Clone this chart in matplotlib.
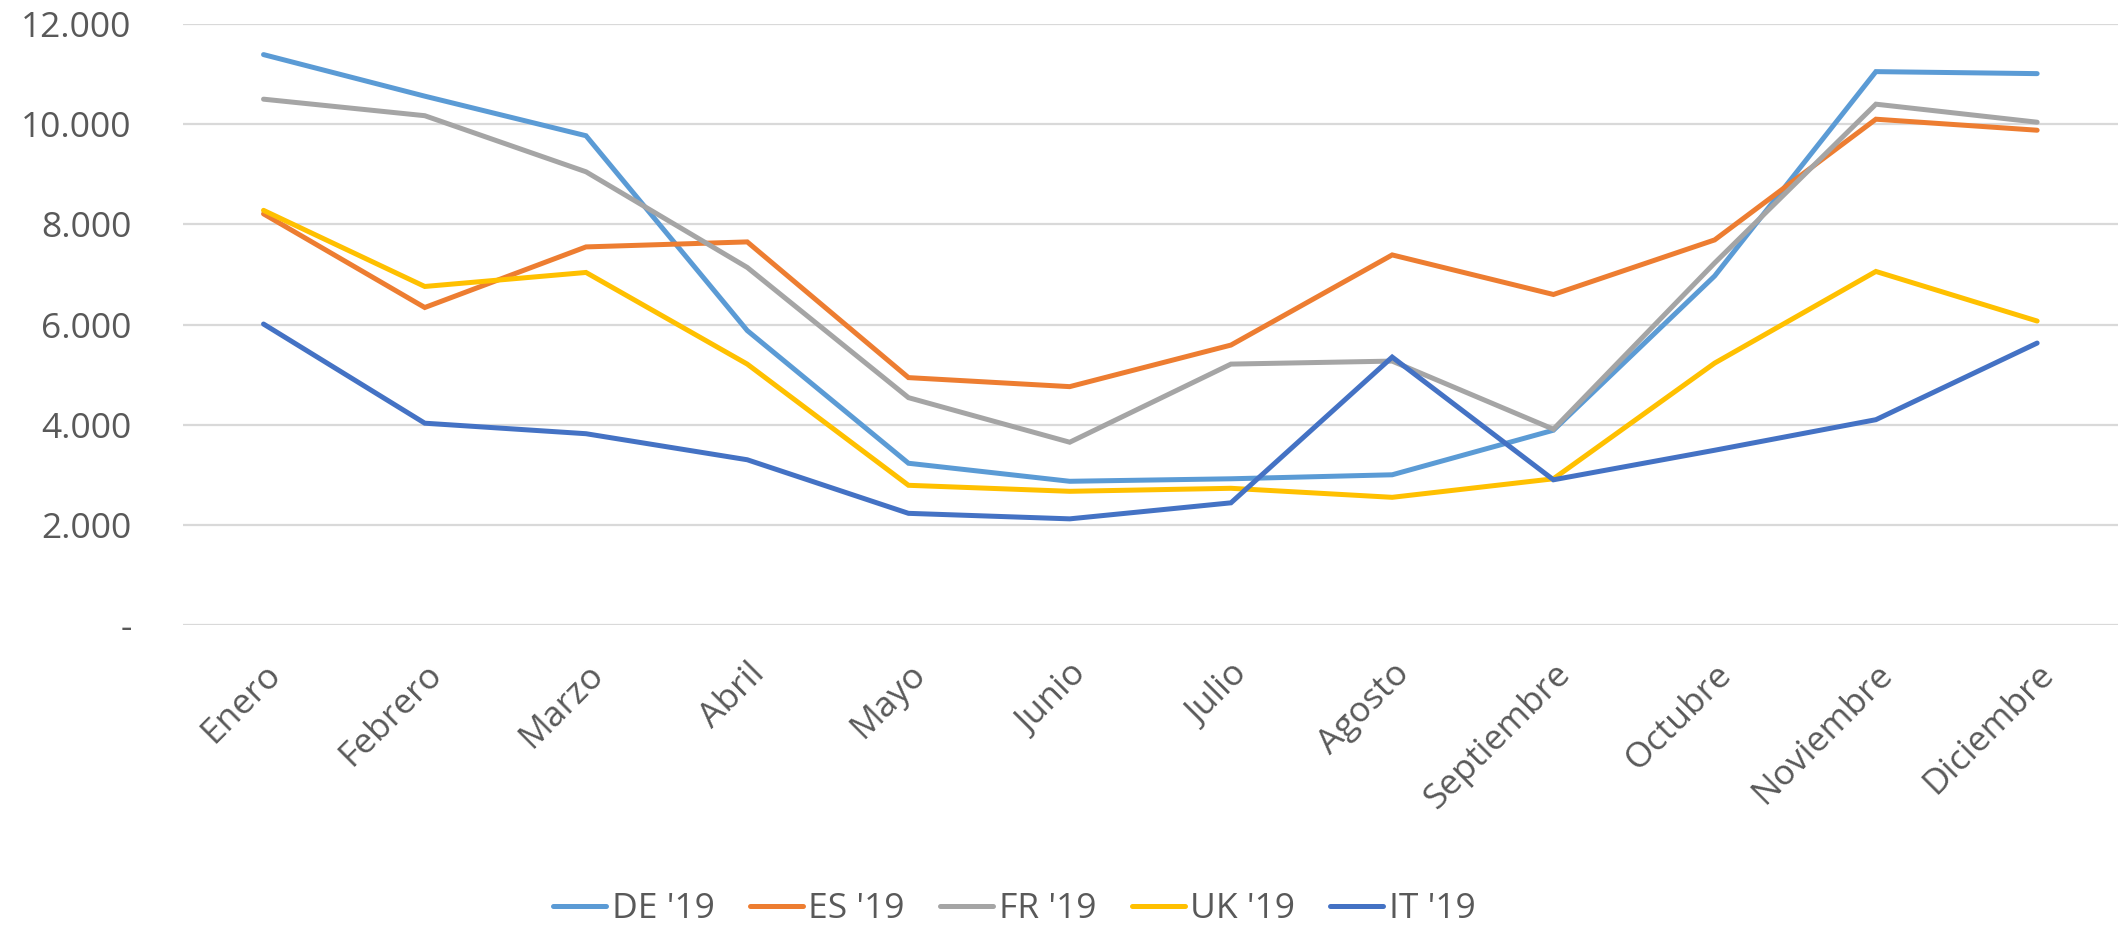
import matplotlib
matplotlib.use("Agg")
import matplotlib.pyplot as plt
from matplotlib.ticker import FuncFormatter

months = ["Enero", "Febrero", "Marzo", "Abril", "Mayo", "Junio", "Julio",
          "Agosto", "Septiembre", "Octubre", "Noviembre", "Diciembre"]
de_19 = [11390, 10560, 9770, 5880, 3230, 2870, 2920, 3000, 3890, 6970, 11050, 11010]
es_19 = [8210, 6340, 7550, 7650, 4940, 4760, 5590, 7390, 6600, 7690, 10100, 9880]
fr_19 = [10500, 10170, 9050, 7140, 4540, 3650, 5210, 5270, 3910, 7230, 10400, 10040]
uk_19 = [8280, 6760, 7040, 5210, 2790, 2670, 2730, 2550, 2920, 5230, 7060, 6070]
it_19 = [6010, 4030, 3820, 3300, 2230, 2120, 2440, 5350, 2900, 3490, 4100, 5630]

series = [("DE '19", de_19, "#5B9BD5"),
          ("ES '19", es_19, "#ED7D31"),
          ("FR '19", fr_19, "#A5A5A5"),
          ("UK '19", uk_19, "#FFC000"),
          ("IT '19", it_19, "#4472C4")]

plt.rcParams['font.family'] = ['Open Sans', 'DejaVu Sans']
fig = plt.figure(figsize=(21.22, 9.25), dpi=100)
ax = fig.add_axes([0.0862, 0.3243, 0.9118, 0.6497])

x = list(range(len(months)))
for name, vals, col in series:
    ax.plot(x, vals, color=col, lw=3.6, label=name, solid_capstyle='round',
            solid_joinstyle='miter')

ax.set_xlim(-0.5, 11.5)
ax.set_ylim(0, 12000)
ax.set_yticks(range(0, 12001, 2000))
ax.yaxis.set_major_formatter(FuncFormatter(
    lambda v, p: "-" if v == 0 else f"{int(v):,}".replace(",", ".")))
ax.grid(axis='y', color='#D9D9D9', lw=1.6)
ax.set_axisbelow(True)
for s in ax.spines.values():
    s.set_visible(False)
ax.tick_params(axis='both', length=0, labelsize=25.5, labelcolor='#595959')
ax.tick_params(axis='y', pad=37)
ax.set_xticks(x)
ax.set_xticklabels(months, rotation=45, ha='right', va='top',
                   rotation_mode='anchor')
ax.tick_params(axis='x', pad=23)

leg = fig.legend(loc='center', bbox_to_anchor=(0.478, 0.017), ncol=5,
                 frameon=False, fontsize=25.5, labelcolor='#595959',
                 handlelength=1.5, columnspacing=1.0, handletextpad=0.15)
for h in leg.get_lines():
    h.set_linewidth(3.6)
fig.savefig("out.png", dpi=100)
